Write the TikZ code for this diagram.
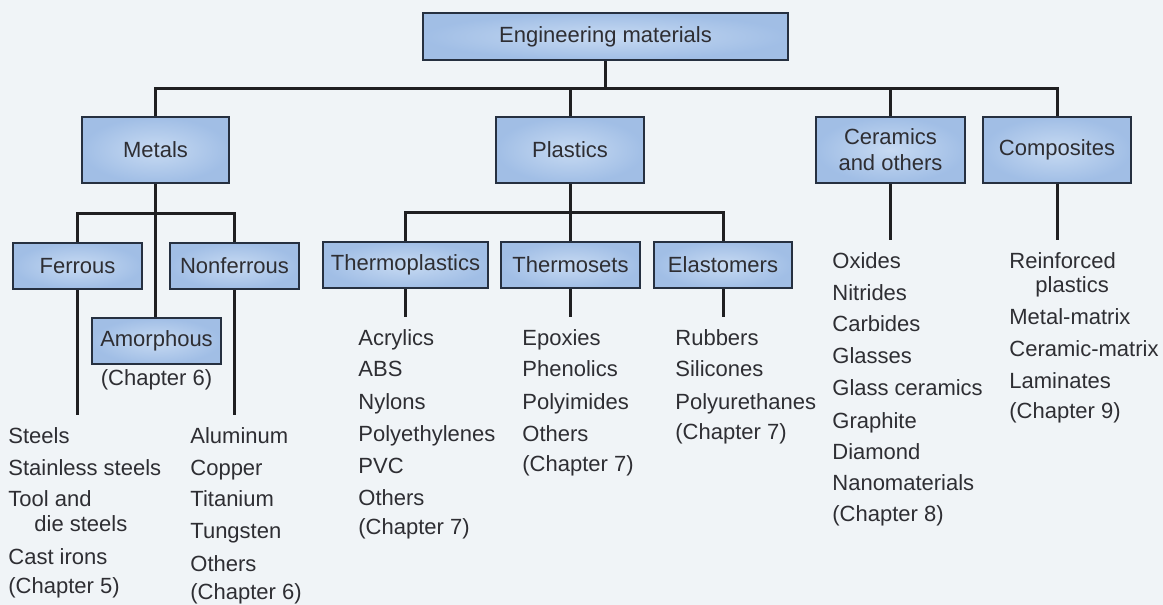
\documentclass[tikz,border=0pt]{standalone}
\usepackage{fontspec}
\setmainfont{Liberation Sans}
\usepackage{tikz}
\definecolor{mback}{rgb}{0.94, 0.955, 0.97}
\definecolor{mlight}{rgb}{0.78, 0.855, 0.95}
\definecolor{mdark}{rgb}{0.63, 0.745, 0.90}
\definecolor{mborder}{rgb}{0.15, 0.19, 0.25}
\definecolor{mline}{rgb}{0.12, 0.12, 0.13}
\definecolor{mtext}{rgb}{0.18, 0.18, 0.2}
\tikzset{matbox/.style = {draw = mborder, line width = 1.3pt, inner color = mlight, outer color = mdark, text = mtext, inner sep = 0, align = center, font = \fontsize{11}{13}\selectfont}}
\tikzset{item/.style = {anchor = base west, inner sep = 0, text = mtext, font = \fontsize{11}{13}\selectfont}}
\tikzset{link/.style = {draw = mline, line width = 1.5pt}}

\begin{document}
\begin{tikzpicture}[x = 0.5pt, y = -0.5pt]
      \useasboundingbox (0, 0) rectangle (1163, 605);
      \fill [mback] (0, 0) rectangle (1163, 605);
      % boxes
      \node [matbox, minimum width = 182.5pt, minimum height = 23.5pt] (root) at (605.5, 36.5) {Engineering materials};
      \node [matbox, minimum width = 73.5pt, minimum height = 33pt] (metals) at (155.5, 150) {Metals};
      \node [matbox, minimum width = 74pt, minimum height = 33pt] (plastics) at (570, 150) {Plastics};
      \node [matbox, minimum width = 74.5pt, minimum height = 33pt] (ceramics) at (890.5, 150) {Ceramics\\and others};
      \node [matbox, minimum width = 74pt, minimum height = 33pt] (composites) at (1057, 150) {Composites};
      \node [matbox, minimum width = 64.5pt, minimum height = 23pt] (ferrous) at (77.5, 266) {Ferrous};
      \node [matbox, minimum width = 64.5pt, minimum height = 23pt] (nonferrous) at (234.5, 266) {Nonferrous};
      \node [matbox, minimum width = 64.5pt, minimum height = 23pt] (amorph) at (156.5, 341) {Amorphous};
      \node [item, anchor = base] (amorphch) at (156.5, 385) {(Chapter 6)};
      \node [matbox, minimum width = 82.5pt, minimum height = 23pt] (thermoplastics) at (405.5, 265) {Thermoplastics};
      \node [matbox, minimum width = 69.5pt, minimum height = 23pt] (thermosets) at (570.5, 265) {Thermosets};
      \node [matbox, minimum width = 69pt, minimum height = 23pt] (elastomers) at (723, 265) {Elastomers};
      % connectors
      \coordinate (topbar) at (605.5, 88);
      \draw [link] (root.south) -- (topbar);
      \draw [link] (metals.north) |- (topbar) -| (composites.north);
      \draw [link] (plastics.north) -- (plastics.north |- topbar);
      \draw [link] (ceramics.north) -- (ceramics.north |- topbar);
      \coordinate (metbar) at (155.5, 213);
      \coordinate (metend) at (0, 415);
      \draw [link] (metals.south) -- (metals.south |- amorph.north);
      \draw [link] (ferrous.north) |- (metbar) -| (nonferrous.north);
      \draw [link] (ferrous.south) -- (ferrous.south |- metend);
      \draw [link] (nonferrous.south) -- (nonferrous.south |- metend);
      \coordinate (plasbar) at (570, 212);
      \coordinate (plasend) at (0, 317);
      \draw [link] (plastics.south) -- (plastics.south |- thermosets.north);
      \draw [link] (thermoplastics.north) |- (plasbar) -| (elastomers.north);
      \foreach \n in {thermoplastics, thermosets, elastomers} {
        \draw [link] (\n.south) -- (\n.south |- plasend);
      }
      \coordinate (ceramend) at (0, 240);
      \foreach \n in {ceramics, composites} {
        \draw [link] (\n.south) -- (\n.south |- ceramend);
      }
      % lists
      \foreach \y/\txt [count = \i] in {443/Steels, 475/Stainless steels, 506/Tool and, 531/\hspace*{13pt}die steels, 564/Cast irons, 593/(Chapter 5)} {
        \node [item] (ferrous-\i) at (8, \y) {\txt};
      }
      \foreach \y/\txt [count = \i] in {443/Aluminum, 475/Copper, 506/Titanium, 538/Tungsten, 571/Others, 599/(Chapter 6)} {
        \node [item] (nonferrous-\i) at (190, \y) {\txt};
      }
      \foreach \y/\txt [count = \i] in {345/Acrylics, 376/ABS, 409/Nylons, 441/Polyethylenes, 473/PVC, 505/Others, 534/(Chapter 7)} {
        \node [item] (thermoplastics-\i) at (358, \y) {\txt};
      }
      \foreach \y/\txt [count = \i] in {345/Epoxies, 376/Phenolics, 409/Polyimides, 441/Others, 471/(Chapter 7)} {
        \node [item] (thermosets-\i) at (522, \y) {\txt};
      }
      \foreach \y/\txt [count = \i] in {345/Rubbers, 376/Silicones, 409/Polyurethanes, 439/(Chapter 7)} {
        \node [item] (elastomers-\i) at (675, \y) {\txt};
      }
      \foreach \y/\txt [count = \i] in {268/Oxides, 300/Nitrides, 331/Carbides, 363/Glasses, 395/Glass ceramics, 428/Graphite, 459/Diamond, 490/Nanomaterials, 521/(Chapter 8)} {
        \node [item] (ceramics-\i) at (832, \y) {\txt};
      }
      \foreach \y/\txt [count = \i] in {268/Reinforced, 292/\hspace*{13pt}plastics, 324/Metal-matrix, 356/Ceramic-matrix, 388/Laminates, 418/(Chapter 9)} {
        \node [item] (composites-\i) at (1009, \y) {\txt};
      }
\end{tikzpicture}
\end{document}
